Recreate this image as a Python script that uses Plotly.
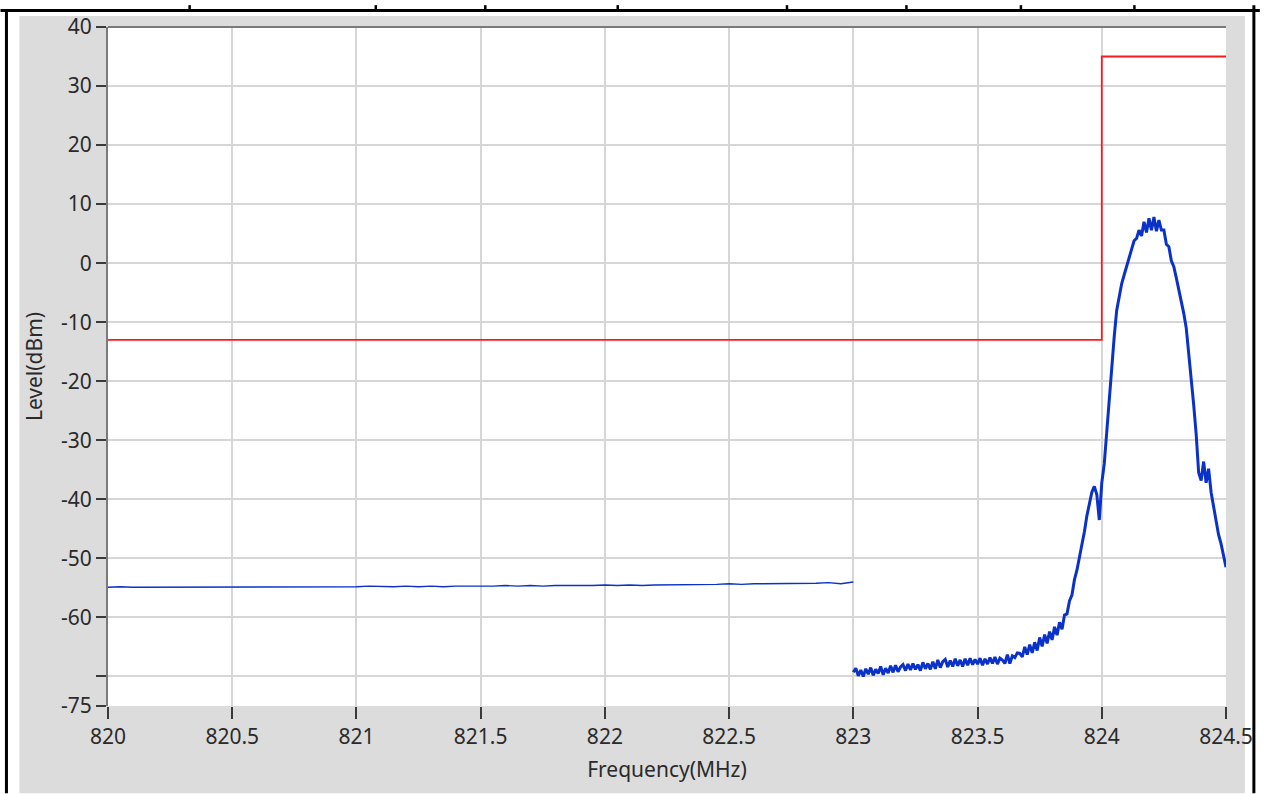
import numpy as np
import plotly.graph_objects as go

# ---------------- data ----------------
# Segment 1: 820.00 .. 823.00 MHz, step 0.05 MHz
seg1_start, seg1_step = 820.00, 0.05
seg1_level = [
    -54.9, -54.8, -54.9, -54.9, -54.8, -54.9, -54.8, -54.9, -54.9, -54.8,
    -54.9, -54.8, -54.8, -54.9, -54.8, -54.9, -54.8, -54.8, -54.9, -54.8,
    -54.8, -54.7, -54.8, -54.8, -54.7, -54.8, -54.7, -54.8, -54.7, -54.7,
    -54.8, -54.7, -54.6, -54.7, -54.6, -54.7, -54.6, -54.6, -54.7, -54.6,
    -54.5, -54.6, -54.5, -54.6, -54.5, -54.5, -54.4, -54.5, -54.4, -54.4,
    -54.3, -54.4, -54.3, -54.3, -54.2, -54.3, -54.2, -54.2, -54.1, -54.3,
    -54.0,
]

# Segment 2: 823.00 .. 824.50 MHz, step 0.01 MHz
seg2_start, seg2_step = 823.00, 0.01
seg2_level = [
    -69.3, -68.6, -69.9, -68.9, -70.0, -68.7, -69.6, -68.5, -69.8, -68.8,
    -69.5, -68.3, -69.7, -68.6, -69.4, -68.2, -69.3, -68.1, -69.2, -68.4,
    -68.0, -69.0, -67.9, -68.9, -67.8, -68.8, -68.0, -69.0, -67.6, -68.7,
    -67.8, -68.8, -67.5, -68.7, -67.2, -68.5, -67.5, -67.1, -68.4, -67.3,
    -68.3, -67.0, -68.2, -67.2, -68.3, -67.0, -68.1, -66.9, -68.0, -67.1,
    -67.9, -66.9, -68.1, -67.0, -67.9, -66.8, -67.8, -66.7, -67.9, -66.9,
    -67.2, -67.8, -66.3, -67.8, -66.5, -66.8, -66.0, -66.1, -66.7, -65.0,
    -66.3, -64.6, -66.0, -64.2, -65.6, -63.4, -64.9, -62.9, -64.4, -62.4,
    -63.8, -61.6, -63.0, -60.8, -62.0, -59.6, -59.4, -57.2, -56.2, -53.6,
    -52.0, -50.0, -47.5, -45.5, -42.8, -40.5, -38.8, -37.8, -39.2, -43.5,
    -37.2, -34.0, -28.5, -22.5, -17.5, -12.5, -8.0, -5.5, -3.5, -2.0,
    -0.5, 0.8, 2.5, 3.8, 4.2, 5.6, 4.6, 7.0, 5.2, 7.6,
    5.6, 7.8, 5.4, 7.3, 5.6, 5.6, 3.2, 2.8, 0.4, -0.6,
    -2.5, -4.5, -6.0, -8.5, -11.0, -15.0, -19.5, -24.0, -29.0, -35.5,
    -36.8, -33.6, -37.2, -34.8, -38.8, -41.0, -43.5, -46.0, -47.5, -49.5,
    -51.5,
]

# Limit line
limit_freq = [820.0, 824.0, 824.0, 824.5]
limit_level = [-13, -13, 35, 35]

# Axis ticks
x_ticks = [820, 820.5, 821, 821.5, 822, 822.5, 823, 823.5, 824, 824.5]
x_ticktext = ["820", "820.5", "821", "821.5", "822", "822.5", "823", "823.5", "824", "824.5"]
y_ticks = [40, 30, 20, 10, 0, -10, -20, -30, -40, -50, -60, -70, -75]
y_ticktext = ["40", "30", "20", "10", "0", "-10", "-20", "-30", "-40", "-50", "-60", "", "-75"]

seg1_freq = np.round(seg1_start + seg1_step * np.arange(len(seg1_level)), 4)
seg2_freq = np.round(seg2_start + seg2_step * np.arange(len(seg2_level)), 4)

# ---------------- figure ----------------
W, H = 1265, 794
L, R, T, B = 108, 1231, 22, 706
pw, ph = R - L, B - T


def px(x):
    return (x - L) / pw


def py(y):
    return (B - y) / ph


BLUE = "#0a32c8"
FONT = "Noto Sans"
TXT = "#2a2a2a"
FS = 21

fig = go.Figure()
fig.add_trace(go.Scatter(x=seg1_freq, y=seg1_level, mode="lines",
                         line=dict(color=BLUE, width=1.4), hoverinfo="skip"))
fig.add_trace(go.Scatter(x=seg2_freq, y=seg2_level, mode="lines",
                         line=dict(color=BLUE, width=3), hoverinfo="skip"))
fig.add_trace(go.Scatter(x=limit_freq, y=limit_level, mode="lines",
                         line=dict(color="#ff1a1a", width=1.8), hoverinfo="skip"))

shapes = [
    # gray panel
    dict(type="rect", xref="paper", yref="paper", x0=px(19), x1=px(1250), y0=py(794), y1=py(11),
         fillcolor="#dcdcdc", line=dict(width=0), layer="below"),
    # white plot area
    dict(type="rect", xref="paper", yref="paper", x0=0, x1=1, y0=0, y1=1,
         fillcolor="white", line=dict(width=0), layer="below"),
    # top dark frame line of plot
    dict(type="line", xref="paper", yref="paper", x0=0, x1=1, y0=1, y1=1,
         line=dict(color="#7a7a7a", width=2), layer="above"),
    # outer black table borders
    dict(type="line", xref="paper", yref="paper", x0=px(0), x1=px(1265), y0=py(5.5), y1=py(5.5),
         line=dict(color="black", width=3), layer="above"),
    dict(type="line", xref="paper", yref="paper", x0=px(6), x1=px(6), y0=py(5), y1=py(794),
         line=dict(color="black", width=3), layer="above"),
    dict(type="line", xref="paper", yref="paper", x0=px(1259), x1=px(1259), y0=py(0), y1=py(794),
         line=dict(color="black", width=3), layer="above"),
]
for xd in [190, 377, 487, 620, 790, 910, 1025, 1139]:
    shapes.append(dict(type="line", xref="paper", yref="paper", x0=px(xd), x1=px(xd),
                       y0=py(0), y1=py(6), line=dict(color="black", width=2.5), layer="above"))

fig.update_layout(
    width=W, height=H,
    autosize=False,
    margin=dict(l=L, r=W - R, t=T, b=H - B, pad=0),
    paper_bgcolor="white",
    plot_bgcolor="white",
    showlegend=False,
    shapes=shapes,
    font=dict(family=FONT, size=FS, color=TXT),
    xaxis=dict(
        range=[820, 824.5], tickvals=x_ticks, ticktext=x_ticktext,
        showgrid=True, gridcolor="#d6d6d6", gridwidth=2,
        zeroline=False, showline=False,
        ticks="outside", ticklen=12, tickwidth=2, tickcolor="#3a3a3a",
        tickfont=dict(family=FONT, size=FS, color=TXT),
        title=dict(text="Frequency(MHz)", font=dict(family=FONT, size=FS, color=TXT), standoff=13),
    ),
    yaxis=dict(
        range=[-75, 40], tickvals=y_ticks, ticktext=y_ticktext,
        showgrid=True, gridcolor="#d6d6d6", gridwidth=2,
        zeroline=False, showline=True, linecolor="#7a7a7a", linewidth=2,
        ticks="outside", ticklen=10, tickwidth=2, tickcolor="#3a3a3a",
        tickfont=dict(family=FONT, size=FS, color=TXT),
        title=dict(text="Level(dBm)", font=dict(family=FONT, size=FS, color=TXT), standoff=13),
    ),
)

POST = (
    "var gd=document.getElementById('{plot_id}');"
    "var de=document.documentElement;de.style.margin='0';de.style.padding='0';de.style.overflow='hidden';"
    "document.body.style.margin='0';document.body.style.padding='0';document.body.style.overflow='hidden';"
    "gd.style.position='fixed';gd.style.left='0px';gd.style.top='0px';"
)

fig.write_html(
    "out.html",
    config={"displayModeBar": False, "responsive": False},
    post_script=POST,
)
